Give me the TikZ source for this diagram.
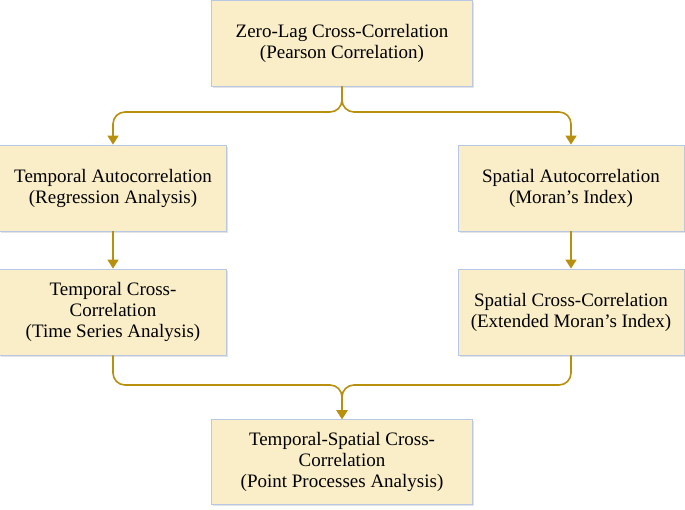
\documentclass[tikz,border=0pt]{standalone}
\usepackage{fontspec}
\setmainfont{Liberation Serif}
\usetikzlibrary{arrows.meta,shadows}
\definecolor{boxfill}{HTML}{FAEEC8}
\definecolor{boxline}{HTML}{B8C8E4}
\definecolor{linkcol}{HTML}{B8900E}
\tikzset{
  box/.style={draw=boxline, line width=0.8pt, fill=boxfill, align=center,
    font=\fontsize{19}{21}\selectfont, inner sep=0pt,
    drop shadow={shadow xshift=1.5pt, shadow yshift=-1.5pt, fill=black!18, opacity=0.6}},
  link/.style={draw=linkcol, line width=1.6pt,
    -{Triangle[length=9pt,width=11pt]}},
  rlink/.style={link, rounded corners=12pt}
}
\begin{document}
\begin{tikzpicture}[x=1pt,y=-1pt]
\useasboundingbox (0,0) rectangle (685,509);
\node[box, minimum width=261pt, minimum height=86pt] (zero) at (342,43)
  {Zero-Lag Cross-Correlation\\(Pearson Correlation)};
\node[box, minimum width=227pt, minimum height=86pt] (tauto) at (113,188)
  {Temporal Autocorrelation\\(Regression Analysis)};
\node[box, minimum width=226pt, minimum height=86pt] (sauto) at (571,188)
  {Spatial Autocorrelation\\(Moran’s Index)};
\node[box, minimum width=227pt, minimum height=86pt] (tcross) at (113,312)
  {Temporal Cross-\\Correlation\\(Time Series Analysis)};
\node[box, minimum width=226pt, minimum height=86pt] (scross) at (571,312)
  {Spatial Cross-Correlation\\(Extended Moran’s Index)};
\node[box, minimum width=261pt, minimum height=85pt] (tsc) at (342,462)
  {Temporal-Spatial Cross-\\Correlation\\(Point Processes Analysis)};
\coordinate (top) at (342,112);
\coordinate (bot) at (342,385);
\draw[rlink] (zero.south) -- (top) -| (tauto.north);
\draw[rlink] (zero.south) -- (top) -| (sauto.north);
\draw[link] (tauto.south) -- (tcross.north);
\draw[link] (sauto.south) -- (scross.north);
\draw[rlink] (tcross.south) |- (bot) -- (tsc.north);
\draw[rlink] (scross.south) |- (bot) -- (tsc.north);
\end{tikzpicture}
\end{document}
